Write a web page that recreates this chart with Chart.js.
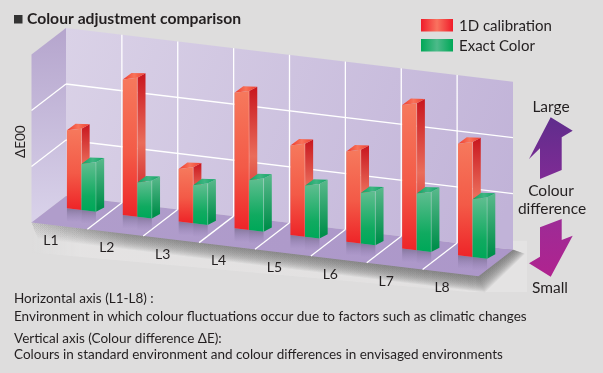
<!DOCTYPE html>
<html>
<head>
<meta charset="utf-8">
<title>Colour adjustment comparison</title>
<style>
  html, body { margin: 0; padding: 0; background: #dedddd; }
  canvas { display: block; }
</style>
<script src="https://cdn.jsdelivr.net/npm/chart.js@4"></script>
</head>
<body>
<canvas id="chart" width="603" height="373"></canvas>
<script>
// Data
const categories = ['L1', 'L2', 'L3', 'L4', 'L5', 'L6', 'L7', 'L8'];
const calibration1D = [1.39, 2.42, 0.94, 2.42, 1.60, 1.61, 2.56, 1.99];
const exactColor = [0.82, 0.61, 0.68, 0.89, 0.91, 0.90, 1.01, 1.03];
const yTicks = [0, 1, 2, 3];
const seriesNames = ['1D calibration', 'Exact Color'];
const notes = [
    'Horizontal axis (L1-L8) :',
    'Environment in which colour fluctuations occur due to factors such as climatic changes',
    'Vertical axis (Colour difference \u0394E):',
    'Colours in standard environment and colour differences in envisaged environments'
];

// Look of the fake 3D box
const SLOPE = 0.12;           // back wall runs downhill to the right
const FLOOR = { x: -34.5, y: 26.5 };  // back wall to front edge of the floor
const FRONT = { x: -12.5, y: 10.6 };  // back wall to front face of the bars
const BAR_DEPTH = { x: 8.2, y: -4.3 };
const TEXT = '#231f20';
const FONT = 'Lato, sans-serif';

const palette = {
    '#f0302c': {
        front: [[0, '#f6785c'], [0.55, '#f35a47'], [1, '#ee2629']],
        side: [[0, '#c8161e'], [0.5, '#ea6c5a'], [1, '#c8161e']],
        top: [[0, '#ee3a2c'], [0.5, '#f8735a'], [1, '#ee3a2c']]
    },
    '#00a859': {
        front: [[0, '#5cbd8e'], [0.7, '#10aa60'], [1, '#00a859']],
        side: [[0, '#5ab98c'], [1, '#008f4b']],
        top: [[0, '#0ea463'], [0.5, '#3fb582'], [1, '#0ea463']]
    }
};

function gradient(ctx, x0, y0, x1, y1, stops) {
    const g = ctx.createLinearGradient(x0, y0, x1, y1);
    stops.forEach(s => g.addColorStop(s[0], s[1]));
    return g;
}

function poly(ctx, pts, fill) {
    ctx.beginPath();
    pts.forEach((p, i) => i ? ctx.lineTo(p[0], p[1]) : ctx.moveTo(p[0], p[1]));
    ctx.closePath();
    ctx.fillStyle = fill;
    ctx.fill();
}

function line(ctx, a, b) {
    ctx.beginPath();
    ctx.moveTo(a[0], a[1]);
    ctx.lineTo(b[0], b[1]);
    ctx.stroke();
}

function label(ctx, text, x, y, font, align) {
    ctx.font = font;
    ctx.textAlign = align || 'left';
    ctx.textBaseline = 'alphabetic';
    ctx.fillStyle = TEXT;
    ctx.fillText(text, x, y);
}

// Bar element that turns the flat rectangle from the scales into a box
class Bar3D extends Chart.BarElement {
    draw(ctx) {
        const { x, y, base, width } = this.getProps(['x', 'y', 'base', 'width']);
        const colors = palette[this.options.backgroundColor];
        const left = this.$chartLeft;
        const sy = (px, py) => py + SLOPE * (px - left) + FRONT.y;
        const l = x - width / 2 + FRONT.x;
        const r = x + width / 2 + FRONT.x;
        const yTop = sy(x - width / 2, y);
        const yBase = sy(x - width / 2, base);
        const dropR = SLOPE * width;

        const fl = [l, yTop];
        const fr = [r, yTop - dropR];
        const br = [r, yBase + dropR];
        const bl = [l, yBase];
        const backR = [fr[0] + BAR_DEPTH.x, fr[1] + BAR_DEPTH.y];
        const backL = [fl[0] + BAR_DEPTH.x + 0.5, fl[1] + BAR_DEPTH.y - 2.2];
        const lowR = [br[0] + BAR_DEPTH.x, br[1] + BAR_DEPTH.y];

        // faint reflection on the floor
        poly(ctx, [bl, br, [r, br[1] + 13], [l, bl[1] + 13]],
            gradient(ctx, 0, yBase, 0, yBase + 14, [[0, 'rgba(110,100,130,0.65)'], [1, 'rgba(140,120,175,0)']]));

        poly(ctx, [fr, backR, lowR, br], gradient(ctx, 0, backR[1], 0, lowR[1], colors.side));
        poly(ctx, [fl, fr, backR, backL], gradient(ctx, l, 0, backR[0], 0, colors.top));
        poly(ctx, [fl, fr, br, bl], gradient(ctx, 0, yTop, 0, yBase, colors.front));

        ctx.strokeStyle = 'rgba(255,255,255,0.35)';
        ctx.lineWidth = 0.7;
        line(ctx, fr, br);
    }
}
Bar3D.id = 'bar3d';
Bar3D.defaults = Chart.BarElement.defaults;

class Bar3DController extends Chart.BarController {
    draw() {
        const left = this.chart.chartArea.left;
        this.getMeta().data.forEach(el => {
            el.$chartLeft = left;
            el.draw(this.chart.ctx);
        });
    }
}
Bar3DController.id = 'bar3d';
Bar3DController.defaults = Object.assign({}, Chart.BarController.defaults, { dataElementType: 'bar3d' });
Chart.register(Bar3D, Bar3DController);

const scene = {
    id: 'scene',
    beforeDatasetsDraw(chart) {
        const ctx = chart.ctx;
        const { left, right, top, bottom } = chart.chartArea;
        const xs = chart.scales.x;
        const ys = chart.scales.y;
        const wall = (px, py) => [px, py + SLOPE * (px - left)];
        const floor = (px, py) => [px + FLOOR.x, py + SLOPE * (px - left) + FLOOR.y];
        const frontL = floor(left, bottom);
        const frontR = floor(right, bottom);
        const backR = wall(right, bottom);

        // pale halo, then soft shadow built from stacked bands
        poly(ctx, [[frontL[0], frontL[1]], [frontL[0], frontL[1] + 30], [frontR[0] - 10, 292], [527, 292], [527, backR[1] - 9], [backR[0], backR[1] - 9]],
            gradient(ctx, frontL[0], 0, 527, 0, [[0, 'rgba(232,231,231,0)'], [0.1, 'rgba(232,231,231,0.6)'], [0.8, 'rgba(229,228,228,0.6)'], [0.9, '#e4e3e3'], [1, '#e4e3e3']]));
        const shade = gradient(ctx, frontL[0], 0, backR[0], 0, [[0, 'rgba(110,110,110,0.015)'], [0.2, 'rgba(105,105,105,0.07)'], [1, 'rgba(105,105,105,0.09)']]);
        for (let k = 16; k >= 1; k--) {
            poly(ctx, [frontL, [frontL[0] + k * 0.4, frontL[1] + k], [frontR[0] + k * 0.4, frontR[1] + k],
                       [backR[0] + k * 0.75, backR[1] + k * 0.25], backR], shade);
        }

        // walls and floor
        poly(ctx, [floor(left, top), wall(left, top), wall(left, bottom), floor(left, bottom)],
            gradient(ctx, 0, top, 0, bottom + 20, [[0, '#b5a5cd'], [1, '#d8d1e9']]));
        poly(ctx, [wall(left, top), wall(right, top), wall(right, bottom), wall(left, bottom)],
            gradient(ctx, left, top, right, bottom, [[0, '#dad2e7'], [1, '#c1b3d8']]));
        poly(ctx, [wall(left, bottom), wall(right, bottom), floor(right, bottom), floor(left, bottom)],
            gradient(ctx, left, 0, right, 0, [[0, '#b09dcb'], [1, '#ac97c9']]));

        // grid lines come from the two scales
        ctx.strokeStyle = '#ffffff';
        ctx.lineWidth = 1.3;
        const half = xs.width / categories.length / 2;
        categories.forEach((c, i) => {
            if (i === 0) return;
            const px = xs.getPixelForValue(i) - half;
            line(ctx, wall(px, top), wall(px, bottom));
            line(ctx, wall(px, bottom), floor(px, bottom));
        });
        yTicks.forEach(v => {
            if (v === 0 || v === yTicks[yTicks.length - 1]) return;
            const py = ys.getPixelForValue(v);
            line(ctx, wall(left, py), wall(right, py));
            line(ctx, wall(left, py), [left + FLOOR.x, py + FLOOR.y]);
        });

        // category labels under the front edge
        categories.forEach((c, i) => {
            const px = xs.getPixelForValue(i);
            label(ctx, c, px - 43, bottom + SLOPE * (px - left) + 46, '14px ' + FONT, 'center');
        });

        // bars, red first so green sits in front
        chart.getDatasetMeta(0).controller.draw();
        chart.getDatasetMeta(1).controller.draw();
        return false;
    },
    afterDraw(chart) {
        const ctx = chart.ctx;

        // title
        ctx.fillStyle = '#333333';
        ctx.fillRect(14, 15, 8.5, 8.5);
        label(ctx, 'Colour adjustment comparison', 27, 24, 'bold 15.7px ' + FONT);

        // legend
        const swatches = [
            [19, [[0, '#f01c2a'], [0.5, '#f9735f'], [1, '#f01c2a']]],
            [39, [[0, '#00a857'], [0.5, '#4dba8a'], [1, '#00a857']]]
        ];
        swatches.forEach((s, i) => {
            ctx.fillStyle = gradient(ctx, 421, 0, 453, 0, s[1]);
            ctx.fillRect(421, s[0], 32, 12.5);
            label(ctx, seriesNames[i], 459, s[0] + 12, '15px ' + FONT);
        });

        // y axis title
        ctx.save();
        ctx.translate(25, 158);
        ctx.rotate(-Math.PI / 2);
        label(ctx, '\u0394E00', 0, 0, '13.5px ' + FONT);
        ctx.restore();

        // colour difference arrows
        poly(ctx, [[550.7, 117.3], [572.7, 130.7], [561.7, 137.3], [561.7, 170], [540, 179], [540, 148.3], [529, 159]],
            gradient(ctx, 0, 117, 0, 179, [[0, '#5f2d8c'], [1, '#7f2b95']]));
        poly(ctx, [[561.7, 219], [561.7, 240], [572.7, 235.7], [550.7, 276.7], [529, 263.3], [540, 256.7], [540, 227.3]],
            gradient(ctx, 0, 219, 0, 277, [[0, '#9d2b96'], [1, '#b0238f']]));
        label(ctx, 'Large', 551, 112, '15.5px ' + FONT, 'center');
        label(ctx, 'Colour', 551, 196, '15.5px ' + FONT, 'center');
        label(ctx, 'difference', 552, 214, '15.5px ' + FONT, 'center');
        label(ctx, 'Small', 550, 293, '15.5px ' + FONT, 'center');

        // notes under the chart
        const noteY = [303, 321, 343, 359];
        notes.forEach((n, i) => label(ctx, n, 14, noteY[i], '13.5px ' + FONT));
    }
};

new Chart(document.getElementById('chart').getContext('2d'), {
    type: 'bar3d',
    data: {
        labels: categories,
        datasets: [
            { label: seriesNames[0], data: calibration1D, backgroundColor: '#f0302c' },
            { label: seriesNames[1], data: exactColor, backgroundColor: '#00a859' }
        ]
    },
    options: {
        responsive: false,
        animation: false,
        events: [],
        layout: { padding: { left: 66, right: 90, top: 28, bottom: 177 } },
        barPercentage: 1,
        categoryPercentage: 0.52,
        scales: {
            x: { type: 'category', display: false, offset: true },
            y: { display: false, min: yTicks[0], max: yTicks[yTicks.length - 1], ticks: { stepSize: 1 } }
        },
        plugins: { legend: { display: false }, title: { display: false }, tooltip: { enabled: false } }
    },
    plugins: [scene]
});
</script>
</body>
</html>
